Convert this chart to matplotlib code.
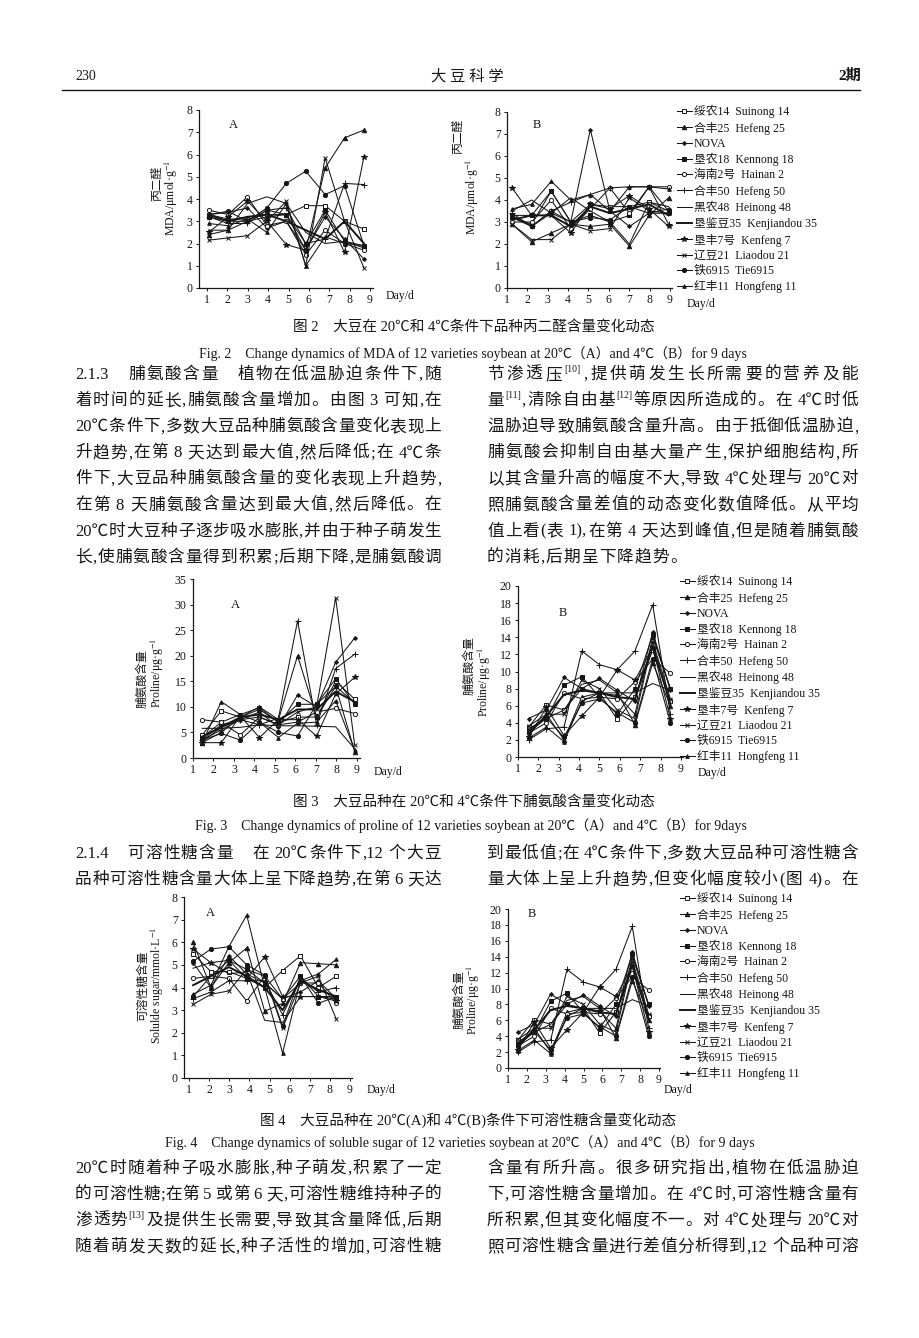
import matplotlib
matplotlib.use('Agg')
import matplotlib.pyplot as plt
import numpy as np
from matplotlib.lines import Line2D

W, H = 920, 1338
FAM = ['Liberation Serif', 'Noto Sans CJK SC']
plt.rcParams['font.family'] = FAM
plt.rcParams['mathtext.fontset'] = 'stix'

# ---------------- data ----------------
days = [1, 2, 3, 4, 5, 6, 7, 8, 9]
varieties_cn = ['绥农14', '合丰25', 'NOVA', '垦农18', '海南2号', '合丰50',
                '黑农48', '垦鉴豆35', '垦丰7号', '辽豆21', '铁6915', '红丰11']
varieties_en = ['Suinong 14', 'Hefeng 25', '', 'Kennong 18', 'Hainan 2', 'Hefeng 50',
                'Heinong 48', 'Kenjiandou 35', 'Kenfeng 7', 'Liaodou 21', 'Tie6915', 'Hongfeng 11']

mda_20C = [
    [3.3, 3.1, 3.1, 3.3, 3.3, 3.7, 3.7, 3.0, 2.65],
    [2.4, 2.6, 3.0, 3.2, 3.3, 1.7, 5.4, 6.75, 7.1],
    [3.3, 3.4, 3.6, 2.7, 3.0, 1.7, 3.2, 2.2, 1.3],
    [3.2, 3.0, 3.0, 3.5, 3.3, 2.0, 3.5, 2.1, 1.9],
    [3.5, 3.3, 4.1, 2.8, 3.0, 1.5, 2.6, 2.0, 1.7],
    [3.2, 2.9, 2.9, 3.5, 3.6, 2.0, 2.2, 4.7, 4.65],
    [2.6, 2.6, 3.8, 4.1, 3.8, 2.5, 2.0, 2.1, 1.8],
    [3.3, 3.0, 3.2, 3.3, 3.0, 2.6, 2.2, 3.0, 2.0],
    [2.5, 3.2, 3.9, 3.0, 1.95, 1.7, 3.4, 1.6, 5.9],
    [2.15, 2.25, 2.35, 3.0, 3.9, 1.0, 5.85, 3.0, 0.9],
    [3.3, 3.45, 3.0, 3.6, 4.7, 5.25, 4.2, 4.6, 1.9],
    [2.9, 2.8, 3.1, 2.5, 3.8, 1.0, 2.3, 2.0, 1.9],
]
mda_4C = [
    [3.3, 2.8, 3.5, 3.0, 3.8, 3.7, 3.7, 3.9, 3.5],
    [2.9, 2.1, 2.5, 2.9, 2.8, 2.9, 1.9, 3.3, 4.1],
    [3.2, 2.9, 4.4, 3.0, 7.2, 3.5, 2.8, 3.4, 3.6],
    [3.3, 3.3, 4.4, 3.0, 3.3, 3.0, 3.3, 4.6, 3.5],
    [3.0, 3.0, 4.0, 2.7, 3.6, 4.55, 3.4, 4.6, 4.6],
    [3.4, 2.8, 3.5, 3.9, 4.25, 4.55, 4.6, 4.6, 2.9],
    [3.5, 4.0, 3.4, 4.1, 3.5, 3.0, 2.0, 3.9, 3.7],
    [3.1, 3.3, 3.3, 2.8, 3.7, 3.4, 3.6, 3.8, 3.3],
    [4.55, 3.3, 3.3, 2.5, 3.8, 3.6, 4.2, 3.6, 2.8],
    [2.9, 2.2, 2.2, 2.9, 2.6, 2.7, 4.1, 3.5, 3.4],
    [3.2, 2.8, 3.4, 3.0, 3.2, 3.1, 3.7, 3.4, 3.4],
    [3.6, 3.8, 4.85, 4.0, 4.25, 3.5, 4.6, 4.6, 4.5],
]
proline_20C = [
    [4.5, 9.2, 8.0, 9.5, 7.0, 8.0, 8.0, 15.0, 11.5],
    [3.0, 5.0, 8.0, 10.0, 7.5, 20.0, 8.0, 14.0, 1.2],
    [3.5, 6.5, 7.5, 9.0, 6.0, 12.3, 10.0, 18.7, 23.5],
    [4.0, 7.0, 8.5, 9.8, 7.0, 10.5, 10.5, 15.5, 10.5],
    [7.5, 7.0, 4.5, 8.0, 6.5, 7.0, 9.0, 9.7, 8.7],
    [3.5, 5.5, 7.5, 6.5, 7.8, 26.8, 6.5, 17.5, 20.3],
    [5.8, 5.8, 6.0, 6.5, 6.3, 6.3, 6.2, 6.1, 1.8],
    [4.2, 6.0, 8.0, 8.5, 7.5, 9.5, 9.5, 13.0, 11.0],
    [3.0, 3.0, 8.2, 4.0, 7.5, 7.5, 4.3, 12.5, 15.8],
    [3.2, 6.0, 7.5, 8.0, 6.5, 9.0, 10.0, 31.3, 2.5],
    [3.5, 4.8, 3.5, 7.0, 5.0, 4.3, 10.5, 14.0, 10.8],
    [3.0, 11.0, 8.5, 7.0, 4.0, 6.8, 7.0, 11.2, 1.5],
]
proline_4C = [
    [3.5, 6.1, 5.5, 8.0, 7.5, 4.4, 7.0, 12.5, 6.5],
    [2.5, 5.0, 2.0, 7.0, 7.5, 7.5, 3.8, 11.0, 6.0],
    [4.5, 5.5, 9.3, 8.0, 9.2, 7.8, 6.5, 14.6, 7.8],
    [3.0, 4.5, 8.4, 9.4, 7.0, 5.0, 8.0, 14.3, 8.0],
    [2.8, 4.0, 7.5, 6.8, 7.0, 6.8, 8.8, 11.5, 9.8],
    [2.0, 3.3, 3.5, 12.4, 10.8, 10.2, 12.4, 17.8, 5.0],
    [3.3, 4.5, 5.5, 8.5, 9.0, 7.5, 7.5, 8.6, 7.8],
    [3.0, 4.8, 7.3, 7.8, 7.5, 7.0, 6.8, 13.0, 6.2],
    [2.3, 5.8, 2.5, 4.8, 7.0, 10.2, 9.0, 12.8, 4.5],
    [3.6, 5.0, 5.0, 9.0, 8.0, 5.5, 4.5, 13.5, 6.8],
    [2.8, 4.6, 2.3, 6.3, 6.8, 5.2, 4.0, 11.5, 4.0],
    [2.2, 3.5, 1.8, 6.5, 7.5, 7.2, 5.0, 14.0, 8.0],
]
sugar_20C = [
    [5.5, 4.7, 4.7, 4.4, 4.0, 4.75, 5.4, 4.0, 4.5],
    [6.0, 4.0, 5.1, 5.75, 2.95, 3.3, 5.1, 5.05, 5.0],
    [5.1, 4.0, 5.4, 4.6, 4.2, 3.5, 3.8, 4.3, 3.5],
    [3.6, 4.5, 5.2, 4.8, 4.2, 3.5, 4.5, 3.6, 3.6],
    [4.4, 4.5, 4.4, 3.4, 4.5, 3.5, 4.2, 4.2, 3.3],
    [3.5, 3.8, 4.3, 4.3, 4.3, 2.8, 4.4, 3.8, 4.0],
    [4.85, 5.1, 4.6, 4.7, 2.55, 2.45, 3.6, 3.6, 3.5],
    [4.1, 4.5, 4.9, 4.5, 4.0, 3.0, 4.3, 3.9, 3.6],
    [5.7, 5.1, 5.2, 4.4, 5.35, 3.6, 3.6, 3.6, 3.4],
    [3.25, 3.7, 3.85, 4.8, 4.5, 2.2, 4.2, 4.5, 2.6],
    [5.15, 5.7, 5.8, 5.0, 4.55, 2.3, 4.5, 3.3, 3.6],
    [3.7, 4.1, 5.8, 7.2, 4.0, 1.1, 4.3, 4.6, 5.25],
]

# ---------------- styles ----------------
INK = '#161616'
styles = [
    dict(marker='s', ms=3.0, mfc='white'),
    dict(marker='^', ms=3.2),
    dict(marker='D', ms=2.0),
    dict(marker='s', ms=3.0),
    dict(marker='o', ms=3.0, mfc='white'),
    dict(marker='+', ms=4.0),
    dict(marker=None),
    dict(marker=None, lw=1.4),
    dict(marker='*', ms=3.8),
    dict(marker='x', ms=3.0),
    dict(marker='o', ms=3.0),
    dict(marker='^', ms=2.6),
]

fig = plt.figure(figsize=(W / 100, H / 100), dpi=100)
fig.patch.set_facecolor('white')
R = fig.canvas.get_renderer()


def fx(x):
    return x / W


def fy(y):
    return 1 - y / H


def ftext(x, y, s, **kw):
    kw.setdefault('va', 'center')
    kw.setdefault('family', FAM)
    kw.setdefault('color', INK)
    return fig.text(fx(x), fy(y), s, **kw)


def chart(series, spine_x, right_x, top_y, zero_y, ymax, ystep, tick1, tick9, x0, step):
    ax = fig.add_axes([fx(spine_x), fy(zero_y), (right_x - spine_x) / W, (zero_y - top_y) / H])
    unit = (tick9 - tick1) / 8
    ax.set_xlim(1 - (tick1 - spine_x) / unit, 1 + (right_x - tick1) / unit)
    ax.set_ylim(0, ymax)
    xs = x0 + (np.array(days) - 1) * step
    handles = []
    for vals, st in zip(series, styles):
        kw = dict(color=INK, lw=0.75, mec=INK, mew=0.7)
        kw.update(st)
        h, = ax.plot(xs, vals, clip_on=False, **kw)
        handles.append(h)
    for s in ('top', 'right'):
        ax.spines[s].set_visible(False)
    for s in ('left', 'bottom'):
        ax.spines[s].set_linewidth(0.9)
        ax.spines[s].set_color(INK)
    ax.set_xticks(days)
    ax.set_yticks(np.arange(0, ymax + 0.01, ystep))
    ax.tick_params(labelsize=8.5, length=2.5, width=0.7, pad=2, direction='out', colors=INK)
    ax.patch.set_alpha(0)
    return ax, handles


def legend(ax, handles, x, y, spacing=0.27):
    labels = []
    for cn, en in zip(varieties_cn, varieties_en):
        labels.append(cn + ('  ' + en if en else ''))
    leg = ax.legend(handles, labels, loc='upper left', bbox_to_anchor=(fx(x), fy(y)),
                    bbox_transform=fig.transFigure, frameon=False,
                    handlelength=1.25, handletextpad=0.15, labelspacing=spacing,
                    borderpad=0, borderaxespad=0, prop=dict(family=FAM, size=8.5))
    for t in leg.get_texts():
        t.set_color(INK)


def ylab(x, y, s, size=8.5):
    ftext(x, y, s, rotation=90, ha='center', fontsize=size)


# ---------------- header ----------------
ftext(75, 76, '230', ha='left', fontsize=10)
ftext(467, 76, '大 豆 科 学', ha='center', fontsize=11)
ftext(861, 76, '2期', ha='right', fontsize=11, weight='bold')
fig.add_artist(Line2D([fx(62), fx(860)], [fy(90), fy(90)], transform=fig.transFigure,
                      color=INK, lw=1.0))

CAP_CN = 10.5
CAP_EN = 10

# ---------------- Fig 2 ----------------
ax, hs = chart(mda_20C, 199, 373, 110, 288, 8, 1, 207, 370, 1.08, 0.953)
ftext(233, 125, 'A', ha='center', fontsize=9)
ftext(386, 296, 'Day/d', ha='left', fontsize=8.5)
ylab(157, 183, '丙二醛')
ylab(171, 198, r'MDA/μmol·g$^{-1}$')

ax, hs = chart(mda_4C, 507, 672, 112, 288, 8, 1, 507, 670, 1.25, 0.96)
ftext(537, 125, 'B', ha='center', fontsize=9)
ftext(687, 304, 'Day/d', ha='left', fontsize=8.5)
ylab(458, 136, '丙二醛')
ylab(472, 197, r'MDA/μmol·g$^{-1}$')
legend(ax, hs, 677, 105)

ftext(474, 327, '图 2　大豆在 20℃和 4℃条件下品种丙二醛含量变化动态', ha='center', fontsize=CAP_CN)
ftext(473, 354, 'Fig. 2　Change dynamics of MDA of 12 varieties soybean at 20℃（A）and 4℃（B）for 9 days',
      ha='center', fontsize=CAP_EN)

# ---------------- Fig 3 ----------------
ax, hs = chart(proline_20C, 193, 360, 579, 758, 35, 5, 193, 357, 1.45, 0.93)
ftext(235, 605, 'A', ha='center', fontsize=9)
ftext(374, 772, 'Day/d', ha='left', fontsize=8.5)
ylab(143, 679, '脯氨酸含量')
ylab(157, 673, r'Proline/μg·g$^{-1}$')

ax, hs = chart(proline_4C, 518, 683, 586, 757, 20, 2, 518, 681, 1.52, 0.87)
ftext(563, 613, 'B', ha='center', fontsize=9)
ftext(698, 773, 'Day/d', ha='left', fontsize=8.5)
ylab(470, 666, '脯氨酸含量')
ylab(484, 682, r'Proline/μg·g$^{-1}$')
legend(ax, hs, 680, 575)

ftext(474, 802, '图 3　大豆品种在 20℃和 4℃条件下脯氨酸含量变化动态', ha='center', fontsize=CAP_CN)
ftext(471, 826, 'Fig. 3　Change dynamics of proline of 12 varieties soybean at 20℃（A）and 4℃（B）for 9days',
      ha='center', fontsize=CAP_EN)

# ---------------- Fig 4 ----------------
ax, hs = chart(sugar_20C, 184, 352, 897, 1078, 8, 1, 189, 350, 1.2, 0.89)
ftext(210, 913, 'A', ha='center', fontsize=9)
ftext(367, 1090, 'Day/d', ha='left', fontsize=8.5)
ylab(143, 986, '可溶性糖含量')
ylab(157, 985, r'Solulde sugar/mmol·L$^{-1}$')

ax, hs = chart(proline_4C, 508, 660, 909, 1068, 20, 2, 508, 659, 1.53, 0.865)
ftext(532, 914, 'B', ha='center', fontsize=9)
ftext(664, 1090, 'Day/d', ha='left', fontsize=8.5)
ylab(460, 1000, '脯氨酸含量')
ylab(473, 1000, r'Proline/μg·g$^{-1}$')
legend(ax, hs, 680, 892)

ftext(468, 1120, '图 4　大豆品种在 20℃(A)和 4℃(B)条件下可溶性糖含量变化动态', ha='center', fontsize=CAP_CN)
ftext(460, 1143, 'Fig. 4　Change dynamics of soluble sugar of 12 varieties soybean at 20℃（A）and 4℃（B）for 9 days',
      ha='center', fontsize=CAP_EN)

# ---------------- body text ----------------
def tokenize(s):
    out = []
    i = 0
    while i < len(s):
        if s.startswith('[[', i):
            j = s.index(']]', i)
            out.append(('sup', '[' + s[i + 2:j] + ']'))
            i = j + 2
            continue
        c = s[i]
        if c == ' ':
            out.append(('sp', None)); i += 1; continue
        if c == '　':
            out.append(('em', None)); i += 1; continue
        if c.isascii():
            j = i
            while j < len(s) and s[j].isascii() and s[j] != ' ' and not s.startswith('[[', j):
                j += 1
            tok = s[i:j]
            if j < len(s) and s[j] == '℃':
                tok += '℃'; j += 1
            out.append(('n', tok)); i = j; continue
        out.append(('n', c)); i += 1
    return out


def put_line(s, x0, x1, yc, fs=12, justify=True, gap_px=1.2):
    em = fs * 100 / 72
    items = []
    for kind, tok in tokenize(s):
        if kind == 'sp':
            items.append((None, 0.2 * em, 0))
        elif kind == 'em':
            items.append((None, em, 0))
        else:
            size = fs * 0.58 if kind == 'sup' else fs
            t = fig.text(0, 0, tok, fontsize=size, family=FAM, va='baseline', ha='left', color=INK)
            w = t.get_window_extent(R).width
            items.append((t, w, 0.45 * em if kind == 'sup' else 0))
    total = sum(w for _, w, _ in items)
    n = len(items) - 1
    gap = (x1 - x0 - total) / n if (justify and n > 0) else gap_px
    x = x0
    base = yc + 0.36 * em
    for t, w, rise in items:
        if t is not None:
            t.set_position((fx(x), fy(base - rise)))
        x += w + gap


def block(lines, x0, x1, y0, dy, last_left=False):
    for k, ln in enumerate(lines):
        last = last_left and k == len(lines) - 1
        put_line(ln, x0, x1, y0 + k * dy, justify=not last)


left_213 = [
    "2.1.3　脯氨酸含量　植物在低温胁迫条件下,随",
    "着时间的延长,脯氨酸含量增加。由图 3 可知,在",
    "20℃条件下,多数大豆品种脯氨酸含量变化表现上",
    "升趋势,在第 8 天达到最大值,然后降低;在 4℃条",
    "件下,大豆品种脯氨酸含量的变化表现上升趋势,",
    "在第 8 天脯氨酸含量达到最大值,然后降低。在",
    "20℃时大豆种子逐步吸水膨胀,并由于种子萌发生",
    "长,使脯氨酸含量得到积累;后期下降,是脯氨酸调",
]
right_213 = [
    "节渗透压[[10]],提供萌发生长所需要的营养及能",
    "量[[11]],清除自由基[[12]]等原因所造成的。在 4℃时低",
    "温胁迫导致脯氨酸含量升高。由于抵御低温胁迫,",
    "脯氨酸会抑制自由基大量产生,保护细胞结构,所",
    "以其含量升高的幅度不大,导致 4℃处理与 20℃对",
    "照脯氨酸含量差值的动态变化数值降低。从平均",
    "值上看(表 1),在第 4 天达到峰值,但是随着脯氨酸",
    "的消耗,后期呈下降趋势。",
]
left_214 = [
    "2.1.4　可溶性糖含量　在 20℃条件下,12 个大豆",
    "品种可溶性糖含量大体上呈下降趋势,在第 6 天达",
]
right_214 = [
    "到最低值;在 4℃条件下,多数大豆品种可溶性糖含",
    "量大体上呈上升趋势,但变化幅度较小(图 4)。在",
]
left_end = [
    "20℃时随着种子吸水膨胀,种子萌发,积累了一定",
    "的可溶性糖;在第 5 或第 6 天,可溶性糖维持种子的",
    "渗透势[[13]]及提供生长需要,导致其含量降低,后期",
    "随着萌发天数的延长,种子活性的增加,可溶性糖",
]
right_end = [
    "含量有所升高。很多研究指出,植物在低温胁迫",
    "下,可溶性糖含量增加。在 4℃时,可溶性糖含量有",
    "所积累,但其变化幅度不一。对 4℃处理与 20℃对",
    "照可溶性糖含量进行差值分析得到,12 个品种可溶",
]

block(left_213, 75, 441, 373, 26.1)
block(right_213, 487, 858, 373, 26.1, last_left=True)
block(left_214, 75, 441, 852, 26.1)
block(right_214, 487, 858, 852, 26.1)
block(left_end, 75, 441, 1167, 26.1)
block(right_end, 487, 858, 1167, 26.1)

fig.savefig('out.png', dpi=100, facecolor='white')
